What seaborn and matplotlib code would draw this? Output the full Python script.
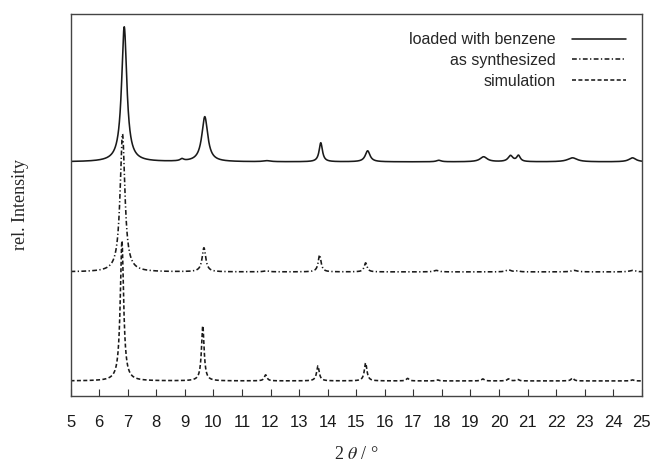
import numpy as np
import pandas as pd
import seaborn as sns
import matplotlib.pyplot as plt

# 2 theta range and peak tables
two_theta = np.linspace(5, 25, 4001)

benzene_pos = [6.88, 8.90, 9.70, 11.87, 13.76, 15.40, 17.89, 19.46, 20.40, 20.68, 22.57, 24.67]
benzene_height = [135, 2, 45, 1, 19, 11, 1.5, 5, 6, 6, 4, 4]
benzene_fwhm = [0.22, 0.15, 0.25, 0.3, 0.14, 0.2, 0.2, 0.3, 0.2, 0.15, 0.4, 0.3]

synth_pos = [6.82, 9.67, 11.85, 13.72, 15.33, 17.80, 20.33, 20.65, 22.63, 24.67]
synth_height = [138, 24, 1, 17, 9, 1.5, 2, 1, 1.5, 1.5]
synth_fwhm = [0.2, 0.15, 0.2, 0.12, 0.12, 0.2, 0.2, 0.15, 0.25, 0.25]

sim_pos = [6.80, 9.63, 11.83, 13.66, 15.33, 16.80, 17.85, 19.43, 20.33, 20.65, 22.57, 24.67]
sim_height = [140, 55, 6, 15, 18, 2.5, 1, 2, 2, 1.5, 3, 1]
sim_fwhm = [0.14, 0.11, 0.11, 0.11, 0.11, 0.11, 0.11, 0.11, 0.11, 0.11, 0.11, 0.11]

# vertical offsets of the three traces
offsets = {"loaded with benzene": 234, "as synthesized": 124, "simulation": 15}


def profile(pos, height, fwhm):
    y = np.zeros_like(two_theta)
    for p, h, w in zip(pos, height, fwhm):
        g = (w / 2) ** 2
        y += h * g / ((two_theta - p) ** 2 + g)
    return y


df = pd.concat([
    pd.DataFrame({"2theta": two_theta, "I": profile(benzene_pos, benzene_height, benzene_fwhm) + offsets["loaded with benzene"], "sample": "loaded with benzene"}),
    pd.DataFrame({"2theta": two_theta, "I": profile(synth_pos, synth_height, synth_fwhm) + offsets["as synthesized"], "sample": "as synthesized"}),
    pd.DataFrame({"2theta": two_theta, "I": profile(sim_pos, sim_height, sim_fwhm) + offsets["simulation"], "sample": "simulation"}),
])

sns.set_theme(style="ticks")
plt.rcParams['font.family'] = ['Liberation Sans', 'DejaVu Sans']
plt.rcParams['mathtext.fontset'] = 'stix'

fig = plt.figure(figsize=(6.56, 4.62), dpi=100)
ax = fig.add_axes([0.1075, 0.143, 0.871, 0.827])

styles = {"loaded with benzene": "-", "as synthesized": (0, (3, 1.5, 0.8, 1.5)), "simulation": (0, (2.5, 1.5))}
for name, ls in styles.items():
    sns.lineplot(data=df[df["sample"] == name], x="2theta", y="I", ax=ax,
                 color="#1a1a1a", linewidth=1.15, linestyle=ls, label=name)

ax.set_xlim(5, 25)
ax.set_ylim(0, 382)
ax.set_xticks(range(5, 26))
ax.set_yticks([])
ax.tick_params(axis="x", direction="in", length=5, width=0.8, labelsize=12, pad=14, colors="#333333")
ax.tick_params(axis="x", labelcolor="#1a1a1a")
for s in ax.spines.values():
    s.set_visible(True)
    s.set_color("#444444")
    s.set_linewidth(1.0)

ax.set_xlabel(r"2 $\theta$ / °", family="Liberation Serif", fontsize=13, labelpad=11)
ax.set_ylabel("rel. Intensity", family="Liberation Serif", fontsize=13, labelpad=30)

ax.legend(loc="upper right", frameon=False, markerfirst=False, fontsize=11.5,
          handlelength=3.4, handletextpad=1.0, labelspacing=0.35,
          borderaxespad=0.4, bbox_to_anchor=(0.995, 0.985))

plt.savefig("out.png", dpi=100)
